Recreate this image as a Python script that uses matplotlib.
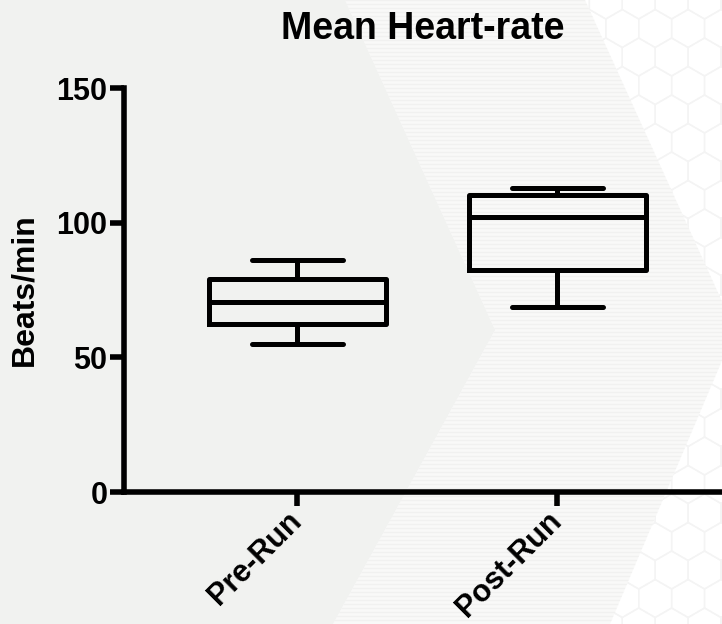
import matplotlib
matplotlib.use("Agg")
import matplotlib.pyplot as plt
from matplotlib.patches import Polygon, RegularPolygon

plt.rcParams['font.family'] = ['Liberation Sans', 'DejaVu Sans']
plt.rcParams['font.weight'] = 'bold'

# box plot summary values (Beats/min)
groups = ["Pre-Run", "Post-Run"]
whisker_low = [55.0, 68.8]
q1 = [62.4, 82.4]
median = [70.6, 102.2]
q3 = [79.1, 110.3]
whisker_high = [86.1, 113.0]

y_ticks = [0, 50, 100, 150]

W, H = 722, 624
fig = plt.figure(figsize=(W / 100, H / 100), dpi=100)
fig.patch.set_facecolor('white')

# background decoration in pixel coords: faint hexagons, striped band, grey chevron
bg = fig.add_axes([0, 0, 1, 1], zorder=-1)
bg.set_xlim(0, W)
bg.set_ylim(H, 0)
bg.axis('off')

hex_r = 19
for row in range(-1, 24):
    for col in range(-1, 10):
        cx = 540 + col * hex_r * 1.732 + (row % 2) * hex_r * 0.866
        cy = row * hex_r * 1.5
        bg.add_patch(RegularPolygon((cx, cy), 6, radius=hex_r, facecolor='none',
                                    edgecolor='#f4f4f4', lw=1.0))

band = Polygon([(345, 0), (585, 0), (735, 330), (610, 624), (333, 624), (495, 330)],
               closed=True, facecolor='#f9f9f8', edgecolor='none')
bg.add_patch(band)
for yy in range(0, H, 4):
    ln, = bg.plot([0, W], [yy, yy], color='#f1f1f0', lw=0.9)
    ln.set_clip_path(band)

bg.add_patch(Polygon([(0, 0), (345, 0), (495, 330), (333, 624), (0, 624)],
                     closed=True, facecolor='#f1f2f0', edgecolor='none'))

ax = fig.add_axes([124 / W, 1 - 492 / H, 1 - 124 / W, (492 - 88) / H])
ax.patch.set_alpha(0)

stats = []
for i, name in enumerate(groups):
    stats.append(dict(label=name, whislo=whisker_low[i], q1=q1[i], med=median[i],
                      q3=q3[i], whishi=whisker_high[i], fliers=[]))

lw = 3.6
ax.bxp(stats, positions=[1, 2], widths=0.68, capwidths=0.35, showfliers=False,
       boxprops=dict(color='black', lw=lw, solid_joinstyle='round'),
       whiskerprops=dict(color='black', lw=lw),
       capprops=dict(color='black', lw=lw, solid_capstyle='round'),
       medianprops=dict(color='black', lw=lw))

ax.set_xlim(0.333, 2.633)
ax.set_ylim(0, 150)
ax.set_yticks(y_ticks)
ax.set_xticks([1, 2])
ax.set_xticklabels(groups, rotation=45, ha='right', va='center',
                   rotation_mode='anchor', fontsize=22, fontweight='bold')
for t in ax.get_yticklabels():
    t.set_fontsize(22)
    t.set_fontweight('bold')

for s in ['top', 'right']:
    ax.spines[s].set_visible(False)
for s in ['left', 'bottom']:
    ax.spines[s].set_linewidth(4.0)
ax.tick_params(axis='both', length=10, width=4.0, color='black', pad=2)
ax.tick_params(axis='x', pad=8)

ax.set_ylabel('Beats/min', fontsize=23, fontweight='bold', labelpad=12)
ax.set_title('Mean Heart-rate', fontsize=27, fontweight='bold', pad=35)

fig.savefig('out.png', dpi=100)
